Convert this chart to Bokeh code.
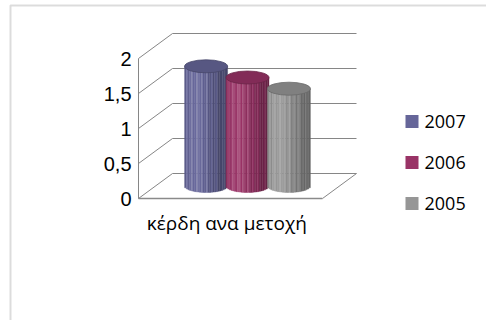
import math
from bokeh.plotting import figure
from bokeh.models import Range1d, BoxAnnotation
from bokeh.embed import file_html
from bokeh.resources import INLINE
from bokeh.core.properties import value

# ---- data ----
category = "κέρδη ανα μετοχή"
series = ["2007", "2006", "2005"]
values = [1.71, 1.55, 1.39]
colors = ["#666699", "#993366", "#969696"]
y_ticks = [0, 0.5, 1, 1.5, 2]
y_tick_labels = ["0", "0,5", "1", "1,5", "2"]

# ---- layout helpers (pixel -> data) ----
W_PX, H_PX = 486, 320
X0_PX, BAND_PX = 138, 184     # front category band
Y0_PX, UNIT_PX = 198, 70      # value 0 and pixels per unit


def px2x(px):
    return (px - X0_PX) / BAND_PX


def px2y(py):
    return (Y0_PX - py) / UNIT_PX


DX = 34 / BAND_PX     # depth offset
DY = 25 / UNIT_PX

p = figure(width=W_PX, height=H_PX, output_backend="svg", toolbar_location=None,
           x_range=Range1d(px2x(0), px2x(W_PX)), y_range=Range1d(px2y(H_PX), px2y(0)),
           min_border=0, min_border_left=0, min_border_right=0, min_border_top=0,
           min_border_bottom=0)
p.axis.visible = False
p.grid.visible = False
p.outline_line_color = None
p.background_fill_color = "white"
p.border_fill_color = "white"

# outer chart-area frame (only top and left visible in window)
p.add_layout(BoxAnnotation(left=px2x(10), top=px2y(5), right=px2x(700), bottom=px2y(500),
                           fill_alpha=0, line_color="#8c8c8c", line_width=2))

GRID = "#868686"
# back wall gridlines + left wall diagonals
for t in y_ticks:
    p.line([DX, 1 + DX], [t + DY, t + DY], line_color=GRID, line_width=1)
    p.line([0, DX], [t, t + DY], line_color=GRID, line_width=1)
# floor
p.line([0, 1], [0, 0], line_color="#8a8a8a", line_width=1.6)
p.line([1, 1 + DX], [0, DY], line_color=GRID, line_width=1)
# front value axis
p.line([0, 0], [0, max(y_ticks)], line_color=GRID, line_width=1)

# tick labels
p.text(x=[px2x(131)] * len(y_ticks), y=y_ticks, text=y_tick_labels,
       text_align="right", text_baseline="middle", text_font=value("Liberation Sans"),
       text_font_size="20px", text_color="#000000")

# category label
p.text(x=[0.48], y=[px2y(222)], text=[category], text_align="center",
       text_baseline="middle", text_font=value("Open Sans"), text_font_size="19px",
       text_color="#000000")


def hex2rgb(h):
    h = h.lstrip("#")
    return [int(h[i:i + 2], 16) for i in (0, 2, 4)]


def shade(h, f):
    r = hex2rgb(h)
    if f <= 1:
        c = [v * f for v in r]
    else:
        c = [v + (255 - v) * (f - 1) for v in r]
    return "#%02x%02x%02x" % tuple(int(max(0, min(255, round(v)))) for v in c)


# cylinders
CW = 43 / BAND_PX          # cylinder width (data x)
CH = 13 / UNIT_PX          # ellipse height (data y)
STEP = 0.225
N = 26
for i, (s, v, col) in enumerate(zip(series, values, colors)):
    cx = 0.5 + (i - 1) * STEP + DX / 2
    y0 = DY / 2
    lefts, rights, bottoms, tops, fills = [], [], [], [], []
    for k in range(N):
        xl = cx - CW / 2 + k * CW / N
        xr = xl + CW / N
        u = ((xl + xr) / 2 - cx) / (CW / 2)
        f = 0.66 + 0.36 * math.exp(-((u + 0.45) / 0.75) ** 2)
        if k % 3 == 1 and u < 0.7:
            f += 0.16
        if k % 5 == 3:
            f += 0.08
        lefts.append(xl)
        rights.append(xr)
        bottoms.append(y0 - (CH / 2) * math.sqrt(max(0.0, 1 - u * u)))
        tops.append(v + y0)
        fills.append(shade(col, f))
    p.quad(left=lefts, right=rights, bottom=bottoms, top=tops, fill_color=fills,
           line_color=fills, line_width=0.4)
    p.ellipse(x=[cx], y=[v + y0], width=CW, height=CH, fill_color=shade(col, 0.85),
              line_color=shade(col, 0.7), line_width=0.8)

# legend
for i, (s, col) in enumerate(zip(series, colors)):
    yc = px2y(121 + 41 * i)
    p.scatter(x=[px2x(411.5)], y=[yc], marker="square", size=13, fill_color=col,
              line_color=None)
    p.text(x=[px2x(424)], y=[yc], text=[s], text_align="left", text_baseline="middle",
           text_font=value("Open Sans"), text_font_size="18px", text_color="#000000")

open("out.html", "w").write(file_html(p, INLINE))
